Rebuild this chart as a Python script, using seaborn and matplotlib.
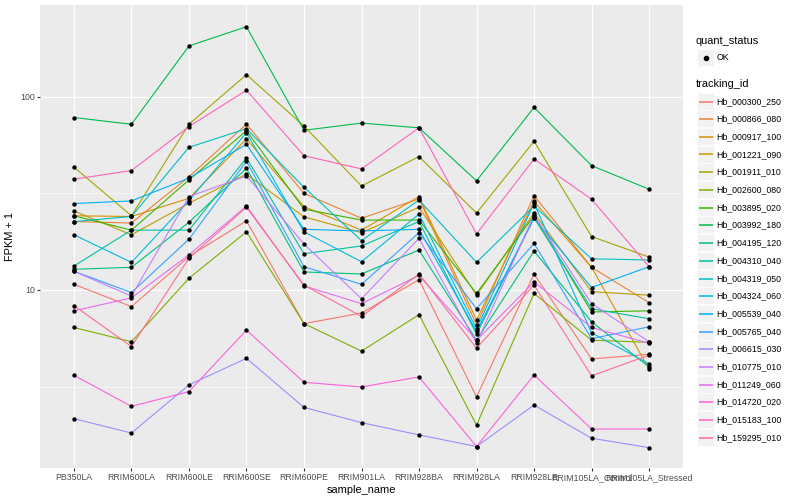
"""
FPKM + 1 per sample for 20 tracked genes, one line per tracking_id (log y axis).
"""
import pandas as pd
import seaborn as sns
import matplotlib.pyplot as plt
from matplotlib.lines import Line2D
from matplotlib.patches import Rectangle
from matplotlib.ticker import FixedLocator, NullFormatter

plt.rcParams["font.family"] = ["Liberation Sans", "DejaVu Sans"]

samples = ["PB350LA", "RRIM600LA", "RRIM600LE", "RRIM600SE", "RRIM600PE", "RRIM901LA",
           "RRIM928BA", "RRIM928LA", "RRIM928LE", "RRIM105LA_Control", "RRIM105LA_Stressed"]

tracking_ids = ["Hb_000300_250", "Hb_000866_080", "Hb_000917_100", "Hb_001221_090",
                "Hb_001911_010", "Hb_002600_080", "Hb_003895_020", "Hb_003992_180",
                "Hb_004195_120", "Hb_004310_040", "Hb_004319_050", "Hb_004324_060",
                "Hb_005539_040", "Hb_005765_040", "Hb_006615_030", "Hb_010775_010",
                "Hb_011249_060", "Hb_014720_020", "Hb_015183_100", "Hb_159295_010"]

# ggplot default hue palette for 20 levels
colors = ["#F8766D", "#EA8331", "#D89000", "#C09B00", "#A3A500", "#7CAE00", "#39B600",
          "#00BB4E", "#00BF7D", "#00C1A3", "#00BFC4", "#00BAE0", "#00B0F6", "#35A2FF",
          "#9590FF", "#C77CFF", "#E76BF3", "#FA62DB", "#FF62BC", "#FF6C91"]

# FPKM + 1 values, one list per gene, in sample order
hb_000300_250 = [10.7, 8.2, 14.9, 22.8, 6.7, 7.6, 11.3, 2.8, 12.1, 4.4, 4.65]
hb_000866_080 = [22.6, 22.2, 38.5, 72.2, 31.6, 23.5, 29.6, 6.6, 30.8, 13.1, 8.6]
hb_000917_100 = [24.2, 24.0, 29.8, 60.5, 27.0, 20.4, 30.4, 7.0, 28.7, 13.1, 3.9]
hb_001221_090 = [25.6, 19.3, 28.1, 39.7, 23.9, 19.8, 26.8, 9.4, 25.0, 9.8, 9.4]
hb_001911_010 = [43.2, 24.2, 72.0, 130.0, 70.5, 34.5, 49.0, 25.0, 58.8, 18.9, 14.8]
hb_002600_080 = [6.4, 5.4, 11.5, 20.0, 6.7, 4.83, 7.45, 2.0, 9.6, 5.5, 5.36]
hb_003895_020 = [24.2, 20.4, 37.1, 66.7, 26.2, 23.0, 23.0, 9.6, 24.2, 7.7, 7.8]
hb_003992_180 = [78.0, 72.0, 183.0, 230.0, 67.0, 73.0, 69.0, 36.7, 88.0, 44.0, 33.2]
hb_004195_120 = [12.8, 13.1, 22.4, 42.6, 12.4, 12.1, 16.1, 5.5, 15.9, 6.85, 4.0]
hb_004310_040 = [13.3, 20.4, 20.4, 48.2, 15.4, 16.9, 22.6, 5.9, 23.6, 8.0, 7.1]
hb_004319_050 = [22.6, 24.0, 54.7, 68.3, 34.0, 18.0, 29.2, 13.9, 27.2, 14.5, 14.3]
hb_004324_060 = [19.3, 13.9, 29.0, 65.1, 20.0, 14.0, 24.7, 6.3, 28.1, 6.0, 4.15]
hb_005539_040 = [28.0, 28.9, 37.9, 56.7, 20.6, 20.2, 20.6, 6.1, 23.6, 10.3, 13.2]
hb_005765_040 = [12.5, 9.7, 18.3, 46.3, 13.2, 10.7, 19.8, 8.0, 17.4, 5.6, 6.45]
hb_006615_030 = [2.16, 1.82, 3.23, 4.43, 2.47, 2.06, 1.78, 1.55, 2.54, 1.71, 1.53]
hb_010775_010 = [12.5, 9.3, 30.4, 38.9, 17.3, 9.0, 18.5, 5.3, 24.4, 8.5, 5.4]
hb_011249_060 = [7.8, 9.1, 15.2, 27.2, 10.5, 8.5, 11.9, 5.5, 11.0, 6.4, 5.3]
hb_014720_020 = [3.62, 2.5, 2.98, 6.2, 3.33, 3.15, 3.55, 1.55, 3.63, 1.91, 1.91]
hb_015183_100 = [37.4, 41.5, 70.0, 108.0, 49.5, 42.3, 69.0, 19.5, 47.6, 29.5, 13.2]
hb_159295_010 = [8.3, 5.1, 14.6, 26.8, 10.6, 7.3, 12.1, 5.0, 10.6, 3.6, 4.6]

series = [hb_000300_250, hb_000866_080, hb_000917_100, hb_001221_090, hb_001911_010,
          hb_002600_080, hb_003895_020, hb_003992_180, hb_004195_120, hb_004310_040,
          hb_004319_050, hb_004324_060, hb_005539_040, hb_005765_040, hb_006615_030,
          hb_010775_010, hb_011249_060, hb_014720_020, hb_015183_100, hb_159295_010]

rows = []
for tid, vals in zip(tracking_ids, series):
    for s, v in zip(samples, vals):
        rows.append({"tracking_id": tid, "sample_name": s, "fpkm1": v, "quant_status": "OK"})
df = pd.DataFrame(rows)

W, H = 800, 500
fig = plt.figure(figsize=(W / 100, H / 100), dpi=100)
# panel: x 40..683 px, y 5..468 px
ax = fig.add_axes([40 / W, 1 - 468 / H, 643 / W, 463 / H])
ax.set_facecolor("#EBEBEB")

sns.lineplot(data=df, x="sample_name", y="fpkm1", hue="tracking_id",
             palette=dict(zip(tracking_ids, colors)), estimator=None, sort=False,
             legend=False, linewidth=0.8, ax=ax)
sns.scatterplot(data=df, x="sample_name", y="fpkm1", color="black", s=10,
                linewidth=0, legend=False, ax=ax, zorder=3)

ax.set_yscale("log")
ax.set_ylim(1.2, 298)
ax.set_xlim(-0.59, len(samples) - 1 + 0.59)
ax.yaxis.set_major_locator(FixedLocator([10, 100]))
ax.set_yticks([10, 100], ["10", "100"])
ax.yaxis.set_minor_locator(FixedLocator([10 ** 0.5, 10 ** 1.5]))
ax.yaxis.set_minor_formatter(NullFormatter())

for sp in ax.spines.values():
    sp.set_visible(False)
ax.grid(which="major", color="white", linewidth=0.8)
ax.grid(which="minor", axis="y", color="white", linewidth=0.4)
ax.set_axisbelow(True)
ax.tick_params(which="major", length=2, width=0.8, color="#333333",
               labelsize=6.35, labelcolor="#4D4D4D", pad=1.5)
ax.tick_params(which="minor", length=0)

ax.set_xlabel("sample_name", fontsize=7.9, labelpad=2)
ax.set_ylabel("FPKM + 1", fontsize=7.9, labelpad=4)


# legend, drawn ggplot style on the figure
def fx(px):
    return px / W


def fy(py):
    return 1 - py / H


key = 17.0
fig.text(fx(696), fy(40.7), "quant_status", fontsize=7.9, va="center", ha="left")
fig.add_artist(Rectangle((fx(697), fy(57.5 + key / 2)), key / W, key / H,
                         transform=fig.transFigure, facecolor="#F2F2F2", edgecolor="white",
                         linewidth=0.5, zorder=1))
fig.add_artist(Line2D([fx(697 + key / 2)], [fy(57.5)], marker="o", markersize=3,
                      color="black", transform=fig.transFigure, zorder=3))
fig.text(fx(716.7), fy(57.5), "OK", fontsize=6.35, va="center", ha="left")

fig.text(fx(696), fy(84.3), "tracking_id", fontsize=7.9, va="center", ha="left")
step = 17.68
for i, (tid, col) in enumerate(zip(tracking_ids, colors)):
    cy = round(100.7 + i * step) + 0.5
    fig.add_artist(Rectangle((fx(697), fy(cy + key / 2)), key / W, key / H,
                             transform=fig.transFigure, facecolor="#F2F2F2", edgecolor="white",
                             linewidth=0.5, zorder=1))
    fig.add_artist(Line2D([fx(698.5), fx(697 + key - 1.5)], [fy(cy), fy(cy)], color=col,
                          linewidth=1.1, solid_capstyle="butt", transform=fig.transFigure,
                          zorder=3))
    fig.text(fx(716.7), fy(cy), tid, fontsize=6.35, va="center", ha="left")

fig.savefig("out.png", dpi=100)
